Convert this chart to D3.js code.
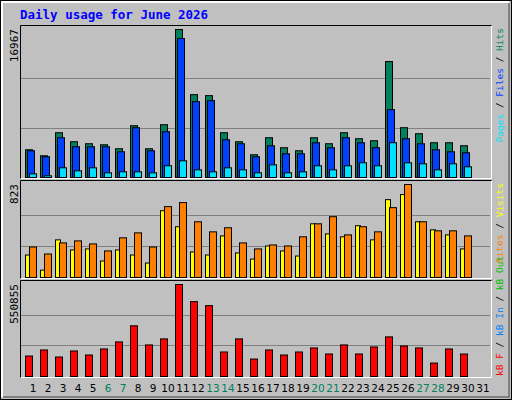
<!DOCTYPE html>
<html><head><meta charset="utf-8">
<script src="https://cdn.jsdelivr.net/npm/d3@7"></script>
<style>body{margin:0;background:#fff}</style></head>
<body><svg id="c" width="512" height="400"></svg>
<script>
const days = d3.range(1, 32);
const weekends = [6,7,13,14,20,21,27,28];
const hits  = [3179,2490,5132,4098,3868,3753,3294,5937,3294,6051,16967,9498,9384,5132,4098,2604,4558,3409,3064,4558,3868,5132,4443,4213,13290,5707,5017,3983,3983,3639];
const files = [3064,2375,4558,3524,3524,3524,2949,5707,3064,5247,15933,8694,8809,4328,3868,2375,3639,2719,2719,3983,3409,4558,3983,3409,7775,4443,3868,3179,2949,2834];
const pages = [421,192,1111,766,1111,536,651,651,536,1341,1915,881,651,1111,881,536,1455,536,651,1341,881,1341,1685,1341,3983,1685,1570,881,1570,1226];
const visits = [199,65,333,244,253,146,244,199,128,591,449,226,199,368,217,163,279,235,190,475,386,360,458,333,689,734,493,422,377,253];
const sites  = [270,208,306,324,297,235,351,395,270,627,663,493,404,440,306,253,288,279,360,475,538,377,449,404,618,823,493,413,413,368];
const kbytes = [122600,158800,116600,152800,128600,164800,207000,303500,189000,225100,550855,448200,424100,146700,225100,104500,158800,128600,146700,170900,134700,189000,134700,176900,237200,182900,170900,80400,164800,134700];
const maxLabels = ["16967","823","550855"];

const svg = d3.select("#c");
const mono = "'DejaVu Sans Mono', monospace";
svg.append("rect").attr("x",0).attr("y",0).attr("width",512).attr("height",400).attr("fill","#000");
svg.append("rect").attr("x",1).attr("y",1).attr("width",510).attr("height",398).attr("fill","#c0c0c0");
svg.append("path").attr("d","M2,397V2H509").attr("stroke","#fff").attr("fill","none").attr("stroke-width",2);
svg.append("path").attr("d","M3,397H509V3").attr("stroke","#808080").attr("fill","none").attr("stroke-width",2);

svg.append("text").attr("x",20).attr("y",19).attr("font-family",mono).attr("font-weight","bold")
  .attr("font-size",12.5).attr("fill","#0000ff").text("Daily usage for June 2026");

const x = d3.scaleBand().domain(days).range([25, 25+15*31]).paddingInner(0);

function panel(top, base, max, label, series, rlabel, fromBottom) {
  const y = d3.scaleLinear().domain([0, max]).range([base, top + 4]);
  [1/3, 2/3].forEach(f => svg.append("line").attr("x1",21).attr("x2",490)
    .attr("y1", Math.round(base - (base-top-4)*f)+0.5).attr("y2", Math.round(base - (base-top-4)*f)+0.5)
    .attr("stroke","#808080"));
  series.forEach(s => {
    svg.append("g").selectAll("rect").data(s.data).join("rect")
      .attr("x",(d,i)=>x(i+1)+s.off+0.5).attr("width",s.w)
      .attr("y",d=>y(d)+0.5).attr("height",d=>base-y(d))
      .attr("fill",s.color).attr("stroke","#000").attr("stroke-width",1);
  });
  svg.append("path").attr("d",`M20.5,${base+2}V${top+0.5}H491.5`).attr("stroke","#000").attr("fill","none");
  svg.append("path").attr("d",`M491.5,${top+1}V${base+1.5}H20.5`).attr("stroke","#fff").attr("fill","none");
  svg.append("text").attr("transform",`translate(18,${top+4}) rotate(-90)`).attr("text-anchor","end")
    .attr("font-family",mono).attr("font-size",11).attr("fill","#000").text(label);
  const t = svg.append("text")
    .attr("transform", fromBottom ? `translate(503,${base}) rotate(-90)` : `translate(503,${top+3}) rotate(-90)`)
    .attr("text-anchor", fromBottom ? "start" : "end")
    .attr("font-family",mono).attr("font-size",9.5);
  rlabel.forEach(p => t.append("tspan").attr("fill",p[1]).text(p[0]));
}

panel(25, 177, 16967, maxLabels[0], [
  {data:hits, off:0, w:7, color:"#00805c"},
  {data:files, off:2, w:7, color:"#0040ff"},
  {data:pages, off:4, w:7, color:"#00e0ff"}],
  [["Pages","#00e0ff"],[" / ","#000"],["Files","#0040ff"],[" / ","#000"],["Hits","#00805c"]], false);
panel(180, 277, 823, maxLabels[1], [
  {data:visits, off:0, w:5, color:"#ffff00"},
  {data:sites, off:4, w:7, color:"#ff8000"}],
  [["Sites","#ff8000"],[" / ","#000"],["Visits","#ffff00"]], false);
panel(280, 376, 550855, maxLabels[2], [
  {data:kbytes, off:0, w:7, color:"#ff0000"}],
  [["kB F","#ff0000"],[" / ","#000"],["kB In","#0080ff"],[" / ","#000"],["kB Out","#00c000"]], true);

svg.append("g").selectAll("text").data(days).join("text")
  .attr("x",d=>x(d)+8).attr("y",392).attr("text-anchor","middle")
  .attr("font-family","'DejaVu Sans', sans-serif").attr("font-size",10.5)
  .attr("fill",d=>weekends.includes(d)?"#00805c":"#000").text(d=>d);
</script></body></html>
